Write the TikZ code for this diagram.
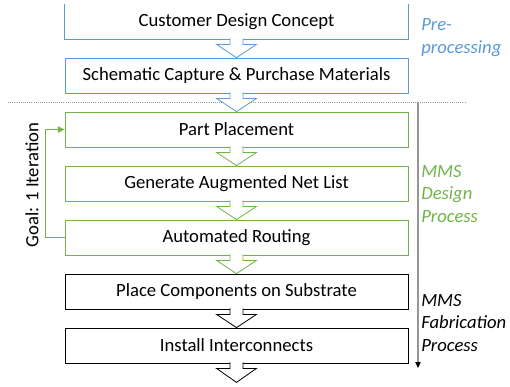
\documentclass[tikz,border=0pt]{standalone}
\usepackage{fontspec}
\setmainfont{Carlito}
\usetikzlibrary{arrows.meta, positioning, calc}
\definecolor{preblue}{RGB}{91, 155, 213}
\definecolor{designgreen}{RGB}{112, 180, 72}
\definecolor{sepgray}{RGB}{150, 150, 150}

% hollow block arrow from the bottom of one box to the top of the next
\newcommand{\blockarrow}[3]{%
  \filldraw[draw=#3, fill=white, line width=0.6pt]
    ($(#1.south)+(-6.5,-1)$) -- ($(#1.south)+(-6.5,5)$) -- ($(#1.south)+(-20,5)$)
    -- (#2) -- ($(#1.south)+(20,5)$) -- ($(#1.south)+(6.5,5)$) -- ($(#1.south)+(6.5,-1)$);
}

\begin{document}
\begin{tikzpicture}[x=0.75pt, y=-0.75pt,
    stagebox/.style={minimum width=257.25pt, minimum height=26.25pt, inner sep=0pt,
      line width=0.6pt, font=\fontsize{14}{17}\selectfont},
    stagelabel/.style={anchor=west, align=left, inner sep=0pt,
      font=\fontsize{14}{17}\selectfont\itshape},
    node distance=13.65pt]
  \useasboundingbox (0,0) rectangle (510,386);

  % pre-processing
  \node[stagebox] (concept) at (236.5,21.5) {Customer Design Concept};
  \draw[preblue, line width=0.6pt] (concept.north west) -- (concept.south west)
    -- (concept.south east) -- (concept.north east);
  \node[stagebox, draw=preblue, below=of concept] (capture) {Schematic Capture \& Purchase Materials};

  % design
  \node[stagebox, draw=designgreen, below=of capture] (placement) {Part Placement};
  \node[stagebox, draw=designgreen, below=of placement] (netlist) {Generate Augmented Net List};
  \node[stagebox, draw=designgreen, below=of netlist] (routing) {Automated Routing};

  % fabrication
  \node[stagebox, draw=black, below=of routing] (components) {Place Components on Substrate};
  \node[stagebox, draw=black, below=of components] (interconnects) {Install Interconnects};
  \coordinate (flowend) at ($(interconnects.south)+(0,19)$);

  % separator and stage arrow
  \coordinate (sepleft) at (8,102);
  \coordinate (sepright) at (466,102);
  \coordinate (stagetop) at (418,102);
  \coordinate (stagebottom) at (418,368);
  \draw[sepgray, densely dotted, line width=0.6pt] (sepleft) -- (sepright);
  \draw[sepgray, line width=0.8pt, -{Triangle[length=4.5pt, width=4pt, color=black]}] (stagetop) -- (stagebottom);

  \blockarrow{concept}{capture.north}{preblue}
  \blockarrow{capture}{placement.north}{preblue}
  \blockarrow{placement}{netlist.north}{designgreen}
  \blockarrow{netlist}{routing.north}{designgreen}
  \blockarrow{routing}{components.north}{designgreen}
  \blockarrow{components}{interconnects.north}{black}
  \blockarrow{interconnects}{flowend}{black}

  % iteration loop
  \draw[designgreen, line width=0.8pt, -{Triangle[length=5pt, width=4.5pt]}]
    (routing.west) -- ++(-19,0) |- (placement.west);
  \node[rotate=90, inner sep=0pt, font=\fontsize{14}{17}\selectfont] (goal) at (32,185) {Goal: 1 Iteration};

  % stage names
  \node[stagelabel, text=preblue] (prelabel) at (421,37.5) {Pre-\\processing};
  \node[stagelabel, text=designgreen] (designlabel) at (421,194) {MMS\\Design\\Process};
  \node[stagelabel, text=black] (fablabel) at (421,323) {MMS\\Fabrication\\Process};
\end{tikzpicture}
\end{document}
